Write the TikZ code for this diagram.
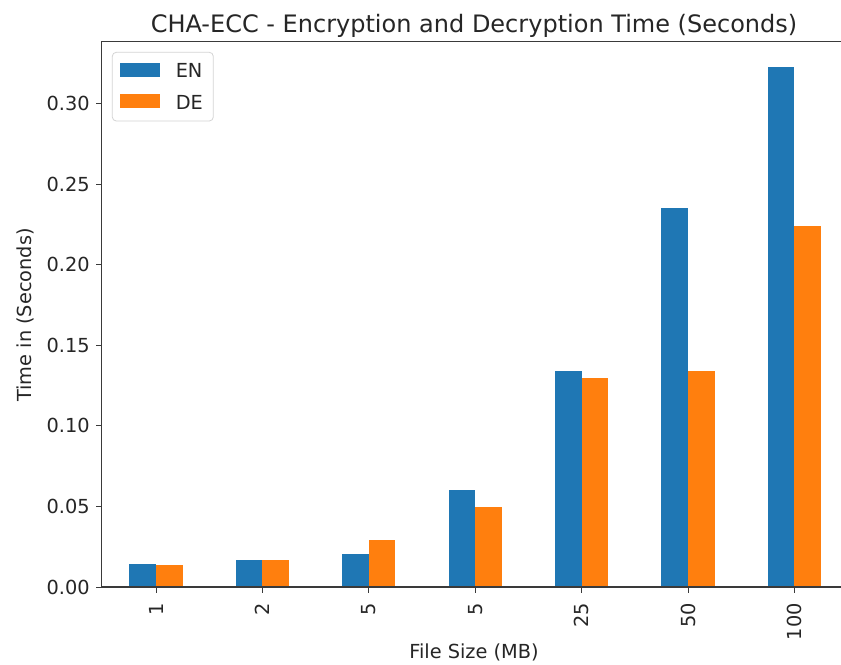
\documentclass[tikz,border=0pt]{standalone}
\usepackage{fontspec}
\setmainfont{DejaVu Sans}
\definecolor{enblue}{HTML}{1F77B4}
\definecolor{deorange}{HTML}{FF7F0E}
\definecolor{spine}{HTML}{3A3A3A}
\definecolor{ink}{HTML}{262626}
\definecolor{legendedge}{HTML}{D4D4D4}
\begin{document}
\begin{tikzpicture}[x=0.75pt, y=-0.75pt,
  axisline/.style={draw=spine, line width=0.9pt},
  tickmark/.style={draw=spine, line width=0.75pt},
  ticklabel/.style={font=\fontsize{14.5}{16}\selectfont, text=ink, inner sep=0pt},
  axislabel/.style={font=\fontsize{14.5}{16}\selectfont, text=ink, inner sep=0pt},
  titlelabel/.style={font=\fontsize{18}{20}\selectfont, text=ink, inner sep=0pt},
  enbar/.style={fill=enblue},
  debar/.style={fill=deorange},
  legendbox/.style={draw=legendedge, line width=0.6pt, fill=white, rounded corners=3pt}]
\useasboundingbox (0,0) rectangle (841,664);
\fill[white] (0,0) rectangle (841,664);

% bars: centre of group i at 156 + 106.4 i, value v at height 587 - 1612 v
\foreach \i/\en/\de in {0/0.0145/0.0135, 1/0.0166/0.0166, 2/0.0207/0.0290,
                         3/0.0600/0.0496, 4/0.1338/0.1297, 5/0.2354/0.1338,
                         6/0.3226/0.2238} {
  \pgfmathsetmacro{\xc}{156+106.4*\i}
  \fill[enbar] ({\xc-26.6},587) rectangle (\xc,{587-1612*\en});
  \fill[debar] (\xc,587) rectangle ({\xc+26.6},{587-1612*\de});
}

% axes frame (right side runs off the page)
\draw[axisline] (841,41.7) -- (101.7,41.7) -- (101.7,587) -- (841,587);

% y ticks
\foreach \v/\lab in {0/0.00, 0.05/0.05, 0.10/0.10, 0.15/0.15, 0.20/0.20, 0.25/0.25, 0.30/0.30} {
  \draw[tickmark] (96,{587-1612*\v}) -- (101.7,{587-1612*\v});
  \node[ticklabel, anchor=east] (yt\lab) at (90,{587-1612*\v}) {\lab};
}

% x ticks
\foreach \i/\lab in {0/1, 1/2, 2/5, 3/5, 4/25, 5/50, 6/100} {
  \pgfmathsetmacro{\xc}{156+106.4*\i}
  \draw[tickmark] (\xc,587) -- (\xc,593);
  \node[ticklabel, rotate=90, anchor=east] (xt\i) at (\xc,603) {\lab};
}

% titles
\node[titlelabel, anchor=base] (title) at (474,32.5) {CHA-ECC - Encryption and Decryption Time (Seconds)};
\node[axislabel] (xlabel) at (474,652) {File Size (MB)};
\node[axislabel, rotate=90] (ylabel) at (25,315) {Time in (Seconds)};

% legend
\draw[legendbox] (112.3,52.3) rectangle (213.3,121);
\fill[enbar] (120,62.5) rectangle (160,76.7);
\fill[debar] (120,94.3) rectangle (160,108.3);
\node[ticklabel, anchor=base west] (legEN) at (175.5,77.2) {EN};
\node[ticklabel, anchor=base west] (legDE) at (175.5,109) {DE};
\end{tikzpicture}
\end{document}
